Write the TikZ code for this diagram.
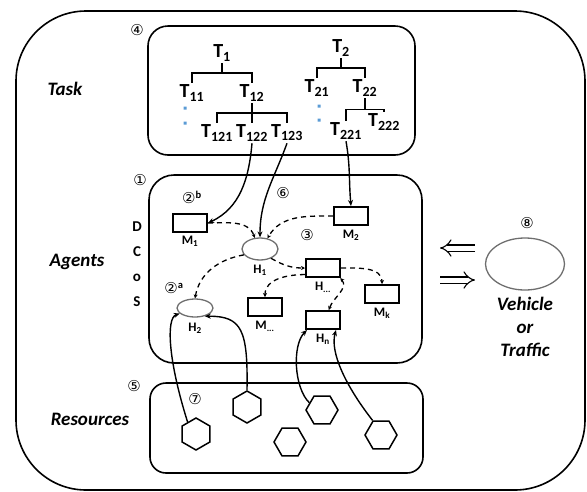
\documentclass[tikz,border=0pt]{standalone}
\usepackage{fontspec}
\setmainfont{Carlito}
\newfontfamily\circfont{DejaVu Sans}
\usepackage{xcolor}
\usetikzlibrary{trees, positioning, arrows.meta, shapes.geometric}
\definecolor{dotblue}{RGB}{91, 155, 213}
\definecolor{rimgray}{RGB}{110, 110, 110}
\tikzset{
    panel/.style={draw, line width=1.6pt, rounded corners=#1},
    tlabel/.style={font=\fontsize{20}{22}\selectfont\bfseries, inner sep=2pt},
    rowlabel/.style={font=\fontsize{19}{23}\selectfont\bfseries\itshape},
    numlabel/.style={font=\circfont\fontsize{15}{15}\selectfont, inner sep=0pt},
    mbox/.style={rectangle, draw, line width=2pt, minimum width=34pt, minimum height=18pt, inner sep=0pt},
    hnode/.style={ellipse, draw=rimgray, line width=1.3pt, minimum width=36pt, minimum height=#1, inner sep=0pt},
    aglabel/.style={font=\fontsize{13}{13}\selectfont\bfseries, inner sep=1pt},
    hexnode/.style={regular polygon, regular polygon sides=6, draw, line width=1.5pt, minimum size=32pt, inner sep=0pt},
    link/.style={line width=1.4pt, -{Stealth[length=6pt, width=5pt]}},
    dlink/.style={line width=1.3pt, dash pattern=on 5pt off 4pt, -{Stealth[length=4pt, width=4pt]}},
    blockarrow/.style={double, double distance=5pt, line width=1.1pt, -{Implies}},
    treeedge/.style={draw, line width=1.6pt}
}

\begin{document}
\begin{tikzpicture}[x=1pt, y=-1pt]
\useasboundingbox (0,0) rectangle (587,491);
\clip (0,0) rectangle (587,491);

\draw[panel=70pt] (16,11) rectangle (585,490);
\draw[panel=20pt] (148,26) rectangle (415,155);
\draw[panel=25pt] (149,175) rectangle (422,363);
\draw[panel=16pt] (150,383) rectangle (423,473);

\node[rowlabel] (task) at (65,89) {Task};
\node[rowlabel] (agents) at (77,262) {Agents};
\node[rowlabel] (res) at (90,419) {Resources};
\node[font=\fontsize{15}{25}\selectfont\bfseries, align=center] (dcos) at (137,264) {D\\C\\o\\S};

\node[numlabel] (n4) at (137,30) {④};
\node[numlabel] (n1) at (140,180) {①};
\node[numlabel] (n5) at (134,386) {⑤};
\node[numlabel] (n7) at (195,399) {⑦};
\node[numlabel] (n6) at (283,193) {⑥};
\node[numlabel] (n3) at (307,235) {③};
\node[numlabel] (n8) at (527,223) {⑧};
\node[numlabel] (n2b) at (192,197) {②\textsuperscript{\normalfont\bfseries b}};
\node[numlabel] (n2a) at (174,288) {②\textsuperscript{\normalfont\bfseries a}};

% task trees
\node[tlabel] (T1) at (222,53) {T\textsubscript{1}}
    [edge from parent fork down, level distance=40pt,
     edge from parent/.style={treeedge},
     level 1/.style={sibling distance=60pt},
     level 2/.style={sibling distance=35pt}]
    child {node[tlabel] (T11) {T\textsubscript{11}}}
    child {node[tlabel] (T12) {T\textsubscript{12}}
        child {node[tlabel] (T121) {T\textsubscript{121}}}
        child {node[tlabel] (T122) {T\textsubscript{122}}}
        child {node[tlabel] (T123) {T\textsubscript{123}}}
    };
\node[tlabel] (T2) at (341,48) {T\textsubscript{2}}
    [edge from parent fork down, level distance=40pt,
     edge from parent/.style={treeedge},
     level 1/.style={sibling distance=48pt},
     level 2/.style={sibling distance=38pt, level distance=43pt}]
    child {node[tlabel] (T21) {T\textsubscript{21}}}
    child {node[tlabel] (T22) {T\textsubscript{22}}
        child {node[tlabel] (T221) {T\textsubscript{221}}}
        child {node[tlabel, yshift=9pt] (T222) {T\textsubscript{222}}}
    };
\fill[dotblue] (183.5,106.5) rectangle ++(3,3) (183.5,121.5) rectangle ++(3,3);
\fill[dotblue] (317.5,104.5) rectangle ++(3,3) (317.5,118.5) rectangle ++(3,3);

% agents
\node[mbox] (M1) at (190,223) {};
\node[aglabel, below=2pt of M1] (M1t) {M\textsubscript{1}};
\node[mbox] (M2) at (351,216) {};
\node[aglabel, below=3pt of M2] (M2t) {M\textsubscript{2}};
\node[hnode=22pt] (H1) at (260,249) {};
\node[aglabel, below=3pt of H1] (H1t) {H\textsubscript{1}};
\node[mbox] (Hd) at (323,268) {};
\node[aglabel, below=3pt of Hd] (Hdt) {H\textsubscript{...}};
\node[mbox] (Mk) at (382,294) {};
\node[aglabel, below=3pt of Mk] (Mkt) {M\textsubscript{k}};
\node[mbox] (Md) at (265,307) {};
\node[aglabel, below=3pt of Md] (Mdt) {M\textsubscript{...}};
\node[mbox] (Hn) at (323,320) {};
\node[aglabel, below=3pt of Hn] (Hnt) {H\textsubscript{n}};
\node[hnode=18pt] (H2) at (195,308) {};
\node[aglabel, below=4pt of H2] (H2t) {H\textsubscript{2}};

\node[ellipse, draw=rimgray, line width=1.3pt, minimum width=79pt, minimum height=52pt] (veh) at (525,264) {};
\node[rowlabel, align=center, below=3pt of veh] (veht) {Vehicle\\or\\Traffic};

% resources
\node[hexnode, shape border rotate=30] (hex1) at (196,434) {};
\node[hexnode, shape border rotate=30] (hex2) at (247,407) {};
\node[hexnode] (hex3) at (322,410) {};
\node[hexnode] (hex4) at (290,442) {};
\node[hexnode] (hex5) at (381,435) {};

% assignments
\draw[link] (T122.south) to[out=-95, in=25] (M1.east);
\draw[link] (T123.south) to[out=-110, in=90] (H1.north);
\draw[link] (T221.south) to[out=-80, in=95] (M2.north);
\draw[link] (hex1.125) .. controls (168,360) and (166,318) .. (H2.200);
\draw[link] (hex2.north) .. controls (248,330) and (242,316) .. (H2.-40);
\draw[link] (hex3.150) .. controls (294,388) and (292,345) .. ([xshift=2pt]Hn.south west);
\draw[link] (hex5.120) .. controls (345,385) and (330,352) .. ([xshift=-5pt]Hn.south east);

% communication
\draw[dlink] (M1.east) to[out=0, in=110] (H1.115);
\draw[dlink] (M2.west) to[out=180, in=60] (H1.55);
\draw[dlink] (H1.200) to[out=190, in=80] (H2.north);
\draw[dlink] (H1.-40) to[out=-30, in=180] (Hd.west);
\draw[dlink] (Hd.200) to[out=180, in=90] (Md.north);
\draw[dlink] (Hd.east) to[out=0, in=90] (Mk.north);
\draw[dlink, {Stealth[length=4pt, width=4pt]}-{Stealth[length=4pt, width=4pt]}] (Hd.-30) to[out=-50, in=70] (Hn.60);

\coordinate (vin) at (475,248);
\coordinate (ain) at (440,248);
\coordinate (aout) at (440,280);
\coordinate (vout) at (475,280);
\draw[blockarrow] (vin) -- (ain);
\draw[blockarrow] (aout) -- (vout);
\end{tikzpicture}
\end{document}
